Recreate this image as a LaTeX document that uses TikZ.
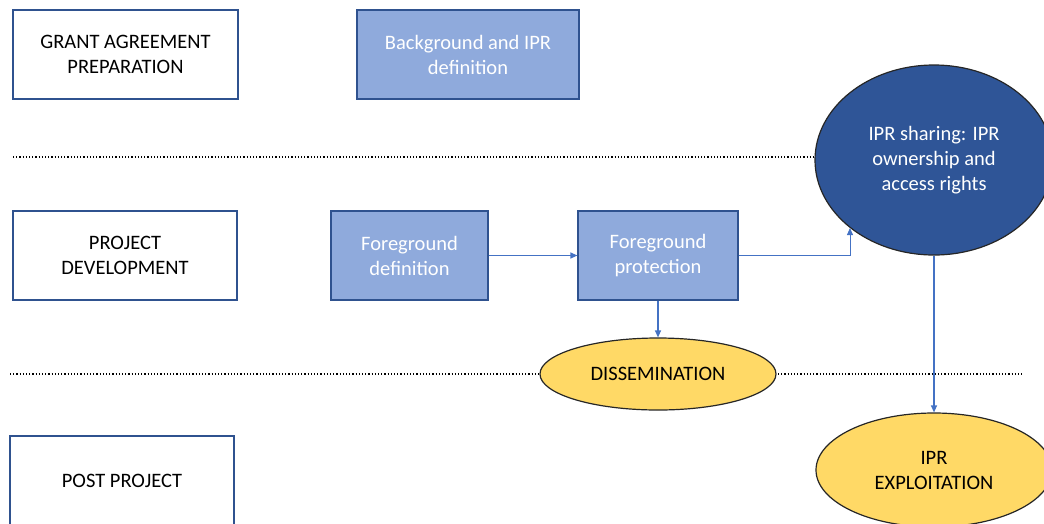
\documentclass[tikz,border=0pt]{standalone}
\usepackage{fontspec}
\setmainfont{Carlito}
\usetikzlibrary{shapes.geometric,arrows.meta}
\definecolor{edgeblue}{HTML}{2F528F}
\definecolor{lightblue}{HTML}{8FAADC}
\definecolor{darkblue}{HTML}{2F5597}
\definecolor{arrowblue}{HTML}{4472C4}
\definecolor{gold}{HTML}{FFD966}
\tikzset{
  phase/.style={draw=edgeblue,line width=1.2pt,fill=white,align=center,inner sep=0pt},
  task/.style={draw=edgeblue,line width=1.2pt,fill=lightblue,text=white,align=center,inner sep=0pt,minimum height=89pt},
  outcome/.style={ellipse,draw=black!85,line width=1.2pt,fill=gold,align=center,inner sep=0pt},
  flow/.style={draw=arrowblue,line width=1.2pt,-{Triangle[length=7pt,width=6pt]}},
  divider/.style={line width=1.2pt,dotted}
}
\begin{document}
\begin{tikzpicture}[x=1pt,y=-1pt,font=\fontsize{20.5}{25}\selectfont]
      \clip (0,0) rectangle (1044,523);
      \fill[white] (0,0) rectangle (1044,523);
      \draw[divider] (13,157) -- (830,157);
      \draw[divider] (10,374) -- (1024,374);
      \draw
        (125.5,54.5) node[phase,minimum width=225pt,minimum height=89pt] (grant){GRANT AGREEMENT\\PREPARATION}
        (468,54.5) node[task,minimum width=222pt] (background){Background and IPR\\definition}
        (125,255.5) node[phase,minimum width=224pt,minimum height=89pt] (development){PROJECT\\DEVELOPMENT}
        (409.5,255.5) node[task,minimum width=157pt] (fgdef){Foreground\\definition}
        (658,255.5) node[task,minimum width=160pt] (fgprot){Foreground\\protection}
        (122,480.5) node[phase,minimum width=224pt,minimum height=89pt] (post){POST PROJECT}
        (934,160) node[ellipse,draw=black!85,line width=1.2pt,fill=darkblue,text=white,align=center,
          minimum width=238pt,minimum height=190pt,inner sep=0pt] (sharing){IPR sharing: IPR\\ownership and\\access rights}
        (658,374) node[outcome,minimum width=236pt,minimum height=72pt] (dissemination){DISSEMINATION}
        (934,470) node[outcome,minimum width=236pt,minimum height=114pt] (exploitation){IPR\\EXPLOITATION};
      \begin{scope}[flow]
        \draw (fgdef) to (fgprot);
        \draw[line width=0.8pt] (fgprot.east) -| (sharing.219);
        \draw (fgprot) to (dissemination);
        \draw (sharing) to (exploitation);
      \end{scope}
    \end{tikzpicture}
\end{document}
